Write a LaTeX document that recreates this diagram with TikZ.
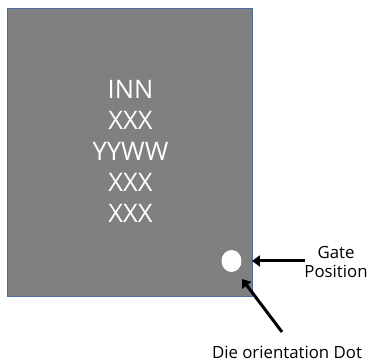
\documentclass[tikz,border=0pt]{standalone}
\usepackage{fontspec}
\setmainfont{Open Sans}
\usetikzlibrary{arrows.meta,shapes.geometric}
\definecolor{edgeblue}{RGB}{79,110,160}
\definecolor{chipgray}{RGB}{128,128,128}
\tikzset{
  chipbox/.style={draw=edgeblue, line width=1pt, fill=chipgray, minimum width=245pt, minimum height=288pt, inner sep=0pt},
  marktext/.style={text=white, font=\fontsize{25.5}{31}\selectfont, align=center, inner sep=0pt},
  dotshape/.style={ellipse, fill=white, minimum width=20pt, minimum height=22pt, inner sep=0pt},
  lbl/.style={font=\fontsize{16.8}{18.5}\selectfont, align=center, inner sep=0pt},
  pointer/.style={line width=3pt, -{Triangle[length=8pt,width=11pt]}}
}
\begin{document}
\begin{tikzpicture}[x=1pt,y=-1pt]
\useasboundingbox (0,0) rectangle (368,363);
\node[chipbox] (chip) at (130.5,153) {};
\node[marktext] (mark) at (130.5,151) {INN\\XXX\\YYWW\\XXX\\XXX};
\node[dotshape] (dot) at (231.5,261) {};
\node[lbl] (gate) at (336,262) {Gate\\Position};
\node[lbl] (die) at (287,352) {Die orientation Dot};
\coordinate (gs) at (305,261);
\coordinate (ge) at (252,261);
\coordinate (ds) at (282,332);
\coordinate (de) at (242,279);
\draw[pointer] (gs) -- (ge);
\draw[pointer] (ds) -- (de);
\end{tikzpicture}
\end{document}
